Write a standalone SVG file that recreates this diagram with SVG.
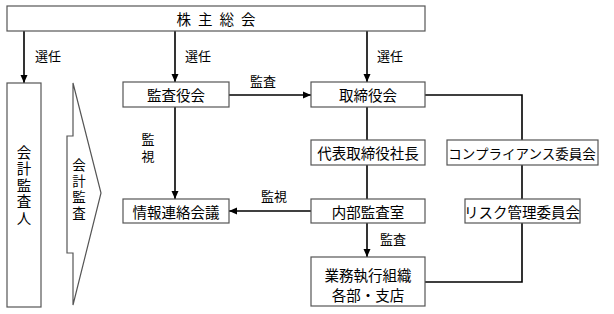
<svg xmlns="http://www.w3.org/2000/svg" width="614" height="314" viewBox="0 0 614 314">
<style>
.box{fill:#fff;stroke:#555;stroke-width:1.2}
.ln{fill:none;stroke:#000;stroke-width:1.6}
text{font-family:"Noto Sans CJK JP","Noto Sans",sans-serif;fill:#000}
.t{font-size:14.5px;text-anchor:middle;dominant-baseline:central}
.lb{font-size:13px;dominant-baseline:central}
.v{writing-mode:vertical-rl;text-orientation:upright;text-anchor:middle}
</style>
<defs>
<marker id="ah" markerWidth="8" markerHeight="8" refX="8" refY="4" orient="auto" markerUnits="userSpaceOnUse">
<path d="M0,0.5 L8,4 L0,7.5 Z" fill="#000"/>
</marker>
</defs>
<rect width="614" height="314" fill="#fff"/>
<g id="connectors">
<line class="ln" x1="24" y1="31" x2="24" y2="83" marker-end="url(#ah)"/>
<line class="ln" x1="175" y1="31" x2="175" y2="82" marker-end="url(#ah)"/>
<line class="ln" x1="367" y1="31" x2="367" y2="82" marker-end="url(#ah)"/>
<line class="ln" x1="229" y1="95" x2="311" y2="95" marker-end="url(#ah)"/>
<line class="ln" x1="175" y1="107" x2="175" y2="199" marker-end="url(#ah)"/>
<line class="ln" x1="311" y1="211" x2="229" y2="211" marker-end="url(#ah)"/>
<line class="ln" x1="367" y1="107" x2="367" y2="140"/>
<line class="ln" x1="367" y1="165" x2="367" y2="199"/>
<line class="ln" x1="367" y1="223" x2="367" y2="257" marker-end="url(#ah)"/>
<polyline class="ln" points="425,95 522,95 522,140"/>
<line class="ln" x1="522" y1="165" x2="522" y2="199"/>
<polyline class="ln" points="522,223 522,282 425,282"/>
<text class="lb" x="35" y="55">選任</text>
<text class="lb" x="185" y="55">選任</text>
<text class="lb" x="377" y="55">選任</text>
<text class="lb" x="250" y="80">監査</text>
<text class="lb v" x="148" y="149.5" style="letter-spacing:4px">監視</text>
<text class="lb" x="261" y="195">監視</text>
<text class="lb" x="380" y="238">監査</text>
</g>
<g id="shareholders">
<rect class="box" x="7" y="6" width="418" height="25"/>
<text class="t" x="219.5" y="18.5" letter-spacing="7">株主総会</text>
</g>
<g id="auditor">
<rect class="box" x="7" y="83" width="34" height="224"/>
<text class="t v" x="24" y="186" style="letter-spacing:2px">会計監査人</text>
</g>
<g id="audit-arrow">
<polygon class="box" points="73,83 101,193 73,305 73,253 67,253 67,136 73,136"/>
<text class="t v" x="79" y="190" style="font-size:13.5px;letter-spacing:2.5px">会計監査</text>
</g>
<g id="kansayakukai">
<rect class="box" x="123" y="82" width="106" height="25"/>
<text class="t" x="176" y="94.5">監査役会</text>
</g>
<g id="torishimariyakukai">
<rect class="box" x="311" y="82" width="114" height="25"/>
<text class="t" x="368" y="94.5">取締役会</text>
</g>
<g id="johorenraku">
<rect class="box" x="123" y="199" width="106" height="24"/>
<text class="t" x="176" y="211">情報連絡会議</text>
</g>
<g id="shacho">
<rect class="box" x="311" y="140" width="114" height="25"/>
<text class="t" x="368" y="152.5">代表取締役社長</text>
</g>
<g id="naibukansa">
<rect class="box" x="311" y="199" width="114" height="24"/>
<text class="t" x="368" y="211">内部監査室</text>
</g>
<g id="gyomu">
<rect class="box" x="311" y="257" width="114" height="49"/>
<text class="t" x="368" y="274">業務執行組織</text>
<text class="t" x="368" y="294">各部・支店</text>
</g>
<g id="compliance">
<rect class="box" x="447" y="140" width="151" height="25"/>
<text class="t" x="522" y="152.5" style="font-size:13.5px">コンプライアンス委員会</text>
</g>
<g id="risk">
<rect class="box" x="465" y="199" width="115" height="24"/>
<text class="t" x="522" y="211">リスク管理委員会</text>
</g>
</svg>
